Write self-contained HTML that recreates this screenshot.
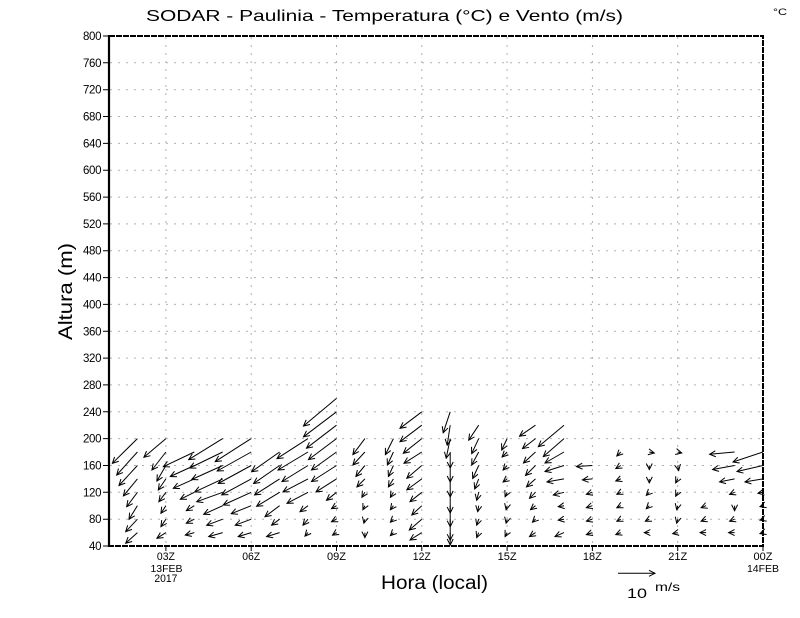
<!DOCTYPE html>
<html><head><meta charset="utf-8"><style>
html,body{margin:0;padding:0;background:#fff}
svg{display:block}
text{font-family:"Liberation Sans",sans-serif;fill:#000}
</style></head><body>
<svg width="800" height="618" viewBox="0 0 800 618" xmlns="http://www.w3.org/2000/svg">
<defs>
<marker id="h" viewBox="-8 -4 9 8" refX="0" refY="0" markerWidth="9" markerHeight="8" orient="auto" markerUnits="userSpaceOnUse" overflow="visible">
<path d="M-6,-3L0,0L-6,3" fill="none" stroke="#000" stroke-width="1"/>
</marker>
</defs>
<rect width="800" height="618" fill="#fff"/>
<!-- title -->
<text x="146" y="21" font-size="16" textLength="477" lengthAdjust="spacingAndGlyphs">SODAR  -  Paulinia  -  Temperatura (°C) e Vento (m/s)</text>
<text x="773" y="15" font-size="9" textLength="14" lengthAdjust="spacingAndGlyphs">°C</text>
<!-- grid -->
<g stroke="#b0b0b0" stroke-width="1" stroke-dasharray="2 6" fill="none">
<path d="M110 519.2H762M110 492.3H762M110 465.5H762M110 438.6H762M110 411.8H762M110 384.9H762M110 358.1H762M110 331.3H762M110 304.4H762M110 277.6H762M110 250.7H762M110 223.9H762M110 197.1H762M110 170.2H762M110 143.4H762M110 116.5H762M110 89.7H762M110 62.8H762"/>
<path d="M165.9 37V545M251.2 37V545M336.5 37V545M421.8 37V545M507.1 37V545M592.4 37V545M677.7 37V545"/>
</g>
<!-- frame -->
<g stroke="#000" fill="none">
<path d="M109 35V547" stroke-width="2.2"/>
<path d="M109 36H763V546H109" stroke-width="2" stroke-dasharray="6 1"/>
<path d="M103 546H109M103 519.2H109M103 492.3H109M103 465.5H109M103 438.6H109M103 411.8H109M103 384.9H109M103 358.1H109M103 331.3H109M103 304.4H109M103 277.6H109M103 250.7H109M103 223.9H109M103 197.1H109M103 170.2H109M103 143.4H109M103 116.5H109M103 89.7H109M103 62.8H109M103 36H109" stroke-width="1"/>
<path d="M165.9 546V551M251.2 546V551M336.5 546V551M421.8 546V551M507.1 546V551M592.4 546V551M677.7 546V551M763 546V551" stroke-width="1"/>
</g>
<!-- y labels -->
<g font-size="11.5" text-anchor="end" lengthAdjust="spacingAndGlyphs">
<text x="101.5" y="550" textLength="12.5">40</text>
<text x="101.5" y="523.2" textLength="12.5">80</text>
<text x="101.5" y="496.3" textLength="18.5">120</text>
<text x="101.5" y="469.5" textLength="18.5">160</text>
<text x="101.5" y="442.6" textLength="18.5">200</text>
<text x="101.5" y="415.8" textLength="18.5">240</text>
<text x="101.5" y="388.9" textLength="18.5">280</text>
<text x="101.5" y="362.1" textLength="18.5">320</text>
<text x="101.5" y="335.3" textLength="18.5">360</text>
<text x="101.5" y="308.4" textLength="18.5">400</text>
<text x="101.5" y="281.6" textLength="18.5">440</text>
<text x="101.5" y="254.7" textLength="18.5">480</text>
<text x="101.5" y="227.9" textLength="18.5">520</text>
<text x="101.5" y="201.1" textLength="18.5">560</text>
<text x="101.5" y="174.2" textLength="18.5">600</text>
<text x="101.5" y="147.4" textLength="18.5">640</text>
<text x="101.5" y="120.5" textLength="18.5">680</text>
<text x="101.5" y="93.7" textLength="18.5">720</text>
<text x="101.5" y="66.8" textLength="18.5">760</text>
<text x="101.5" y="40" textLength="18.5">800</text>
</g>
<!-- x labels -->
<g font-size="11" text-anchor="middle">
<text x="165.9" y="560" textLength="18" lengthAdjust="spacingAndGlyphs">03Z</text>
<text x="166.5" y="572" font-size="10.5">13FEB</text>
<text x="165.9" y="582" textLength="23" lengthAdjust="spacingAndGlyphs">2017</text>
<text x="251.2" y="560" textLength="18" lengthAdjust="spacingAndGlyphs">06Z</text>
<text x="336.5" y="560" textLength="19" lengthAdjust="spacingAndGlyphs">09Z</text>
<text x="421.8" y="560" textLength="18" lengthAdjust="spacingAndGlyphs">12Z</text>
<text x="507.1" y="560" textLength="19" lengthAdjust="spacingAndGlyphs">15Z</text>
<text x="592.4" y="560" textLength="19" lengthAdjust="spacingAndGlyphs">18Z</text>
<text x="677.7" y="560" textLength="19" lengthAdjust="spacingAndGlyphs">21Z</text>
<text x="763" y="560" textLength="19" lengthAdjust="spacingAndGlyphs">00Z</text>
<text x="763" y="572" font-size="10.5">14FEB</text>
</g>
<!-- axis titles -->
<text x="381" y="589" font-size="19" textLength="107" lengthAdjust="spacingAndGlyphs">Hora (local)</text>
<text transform="translate(72,340) rotate(-90)" x="0" y="0" font-size="19" textLength="97" lengthAdjust="spacingAndGlyphs">Altura (m)</text>
<!-- reference vector -->
<path d="M618 573.3H655" stroke="#000" stroke-width="1" fill="none" marker-end="url(#h)"/>
<text x="627" y="598" font-size="14" textLength="20" lengthAdjust="spacingAndGlyphs">10</text>
<text x="655" y="591" font-size="12" textLength="25" lengthAdjust="spacingAndGlyphs">m/s</text>
<!-- wind vectors -->
<g fill="none" stroke="#000" stroke-width="1" marker-end="url(#h)">
<!-- 02Z -->
<path d="M137.4 438.6l-25 24.7"/><path d="M137.4 452l-20.7 23"/><path d="M137.4 465.5l-18.4 20"/><path d="M137.4 478.9l-14 17"/><path d="M137.4 492.3l-10.7 14.4"/><path d="M137.4 505.7l-8.4 13.6"/><path d="M137.4 519.2l-11.7 12.5"/><path d="M137.4 532.6l-11.7 10.7"/>
<!-- 03Z -->
<path d="M165.9 438.6l-22 18.7"/><path d="M165.9 452l-14 18"/><path d="M165.9 465.5l-9 15.5"/><path d="M165.9 478.9l-7.6 11"/><path d="M165.9 492.3l-7 9.4"/><path d="M165.9 505.7l-5 7.6"/><path d="M165.9 519.2l-5 7.5"/><path d="M165.9 532.6l-9 5.7"/>
<!-- 04Z -->
<path d="M194.3 452l-31 14.7"/><path d="M194.3 465.5l-24 11"/><path d="M194.3 478.9l-21 9.4"/><path d="M194.3 492.3l-14 7"/><path d="M194.3 505.7l-8 5"/><path d="M194.3 519.2l-8 4"/><path d="M194.3 532.6l-9 2.5"/>
<!-- 05Z -->
<path d="M222.7 438.6l-34 21"/><path d="M222.7 452l-33 16"/><path d="M222.7 465.5l-31 14"/><path d="M222.7 478.9l-28 13"/><path d="M222.7 492.3l-26 9.4"/><path d="M222.7 505.7l-19 8.6"/><path d="M222.7 519.2l-16 6"/><path d="M222.7 532.6l-14 4"/>
<!-- 06Z -->
<path d="M251.2 438.6l-36 23"/><path d="M251.2 452l-34 19"/><path d="M251.2 465.5l-33 18"/><path d="M251.2 478.9l-29.5 16"/><path d="M251.2 492.3l-28 12.7"/><path d="M251.2 505.7l-20 8"/><path d="M251.2 519.2l-16 6"/><path d="M251.2 532.6l-13 4"/>
<!-- 07Z -->
<path d="M279.6 452l-28 19.7"/><path d="M279.6 465.5l-26 18"/><path d="M279.6 478.9l-25 16"/><path d="M279.6 492.3l-23 14"/><path d="M279.6 505.7l-14.6 11"/><path d="M279.6 519.2l-8 6"/><path d="M279.6 532.6l-13 4"/>
<!-- 08Z -->
<path d="M308 438.6l-31 20"/><path d="M308 452l-30 18"/><path d="M308 465.5l-26 16"/><path d="M308 478.9l-25 13"/><path d="M308 492.3l-21 11"/><path d="M308 505.7l-8 6"/><path d="M308 519.2l-5 6"/><path d="M308 532.6l-3 3.5"/>
<!-- 09Z -->
<path d="M336.5 398.4l-33 27.6"/><path d="M336.5 411.8l-33 25"/><path d="M336.5 425.2l-30 23"/><path d="M336.5 438.6l-28 21"/><path d="M336.5 452l-25 18"/><path d="M336.5 465.5l-25 16"/><path d="M336.5 478.9l-20.5 13"/><path d="M336.5 492.3l-10 8"/><path d="M336.5 505.7l-5 3"/><path d="M336.5 519.2l-5 2.5"/><path d="M336.5 532.6l-4 2.5"/>
<!-- 10Z -->
<path d="M364.9 438.6l-12 16"/><path d="M364.9 452l-12 13"/><path d="M364.9 465.5l-9 11"/><path d="M364.9 478.9l-8 8"/><path d="M364.9 492.3l-3 5"/><path d="M364.9 505.7l-2 4"/><path d="M364.9 519.2l-1 4"/><path d="M364.9 532.6l0 5"/>
<!-- 11Z -->
<path d="M393.4 438.6l-8 16"/><path d="M393.4 452l-6 13"/><path d="M393.4 465.5l-5 11"/><path d="M393.4 478.9l-5 8"/><path d="M393.4 492.3l-3 5"/><path d="M393.4 505.7l-3 4"/><path d="M393.4 519.2l-3 3"/><path d="M393.4 532.6l-3 3"/>
<!-- 12Z -->
<path d="M421.8 411.8l-21.8 16.5"/><path d="M421.8 425.2l-21.8 16.5"/><path d="M421.8 438.6l-18.5 14.7"/><path d="M421.8 452l-17.8 11.3"/><path d="M421.8 465.5l-15 12.8"/><path d="M421.8 478.9l-15 11"/><path d="M421.8 492.3l-11.8 9.4"/><path d="M421.8 505.7l-10 9.3"/><path d="M421.8 519.2l-12.5 10.8"/><path d="M421.8 532.6l-11.8 7.4"/>
<!-- 13Z -->
<path d="M450.2 411.8l-7 21"/><path d="M450.2 425.2l-3 20"/><path d="M450.2 438.6l-4 19.6"/><path d="M450.2 452l0 16"/><path d="M450.2 465.5l0 16.5"/><path d="M450.2 478.9l0 18"/><path d="M450.2 492.3l0 20.7"/><path d="M450.2 505.7l0 21"/><path d="M450.2 519.2l0 21"/><path d="M450.2 532.6l0 12.4"/>
<!-- 14Z -->
<path d="M478.7 425.2l-10 15"/><path d="M478.7 438.6l-7 15"/><path d="M478.7 452l-7 13"/><path d="M478.7 465.5l-6 13"/><path d="M478.7 478.9l-4 10"/><path d="M478.7 492.3l-2 8"/><path d="M478.7 505.7l-1 6"/><path d="M478.7 519.2l-2 6"/><path d="M478.7 532.6l-2 5"/>
<!-- 15Z -->
<path d="M507.1 438.6l-5.4 11.4"/><path d="M507.1 452l-5 5"/><path d="M507.1 465.5l-4 4.5"/><path d="M507.1 478.9l-4 3"/><path d="M507.1 492.3l-2 4.4"/><path d="M507.1 505.7l-1 4"/><path d="M507.1 519.2l-1 4"/><path d="M507.1 532.6l-2 4"/>
<!-- 16Z -->
<path d="M535.5 425.2l-16 11"/><path d="M535.5 438.6l-13 10"/><path d="M535.5 452l-12 11"/><path d="M535.5 465.5l-10 10"/><path d="M535.5 478.9l-9 8"/><path d="M535.5 492.3l-6 6"/><path d="M535.5 505.7l-5 4"/><path d="M535.5 519.2l-3 3"/><path d="M535.5 532.6l-6 4"/>
<!-- 17Z -->
<path d="M564 425.2l-25.7 21.5"/><path d="M564 438.6l-20.7 18"/><path d="M564 452l-19 11"/><path d="M564 465.5l-19 6"/><path d="M564 478.9l-17 3"/><path d="M564 492.3l-10.7 2.7"/><path d="M564 505.7l-5.7 1"/><path d="M564 519.2l-5.7 1"/><path d="M564 532.6l-9 4"/>
<!-- 18Z -->
<path d="M592.4 465.5l-16 1"/><path d="M592.4 478.9l-10 1"/><path d="M592.4 492.3l-6 2"/><path d="M592.4 505.7l-6 2"/><path d="M592.4 519.2l-6 2"/><path d="M592.4 532.6l-6 2"/>
<!-- 19Z -->
<path d="M620.8 452l-4 4"/><path d="M620.8 465.5l-5 3"/><path d="M620.8 478.9l-5 2"/><path d="M620.8 492.3l-4 2"/><path d="M620.8 505.7l-4 2"/><path d="M620.8 519.2l-4 2"/><path d="M620.8 532.6l-5 2"/>
<!-- 20Z -->
<path d="M649.3 452l5 1"/><path d="M649.3 465.5l0 4"/><path d="M649.3 478.9l0 4"/><path d="M649.3 492.3l-3 3"/><path d="M649.3 505.7l-3 3"/><path d="M649.3 519.2l-4 2"/><path d="M649.3 532.6l-5 0"/>
<!-- 21Z -->
<path d="M677.7 452l4 1"/><path d="M677.7 465.5l1 5"/><path d="M677.7 478.9l-2 4"/><path d="M677.7 492.3l-2 4"/><path d="M677.7 505.7l-1 4"/><path d="M677.7 519.2l-1 4"/><path d="M677.7 532.6l-5 1"/>
<!-- 22Z -->
<path d="M706.1 505.7l-5 2"/><path d="M706.1 519.2l-5 2"/><path d="M706.1 532.6l-6 0"/>
<!-- 23Z -->
<path d="M734.6 452l-25 2.3"/><path d="M734.6 465.5l-22 4"/><path d="M734.6 478.9l-15 3"/><path d="M734.6 492.3l-5 2"/><path d="M734.6 505.7l0 5"/><path d="M734.6 519.2l-5 2"/><path d="M734.6 532.6l-6 0"/>
<!-- 00Z -->
<path d="M763 452l-30 10"/><path d="M763 465.5l-26 6"/><path d="M763 478.9l-18 3"/><path d="M763 492.3l-5 1"/><path d="M763 505.7l-3 1"/><path d="M763 519.2l-3 1"/><path d="M763 532.6l-3 1"/>
</g>
</svg>
</body></html>
